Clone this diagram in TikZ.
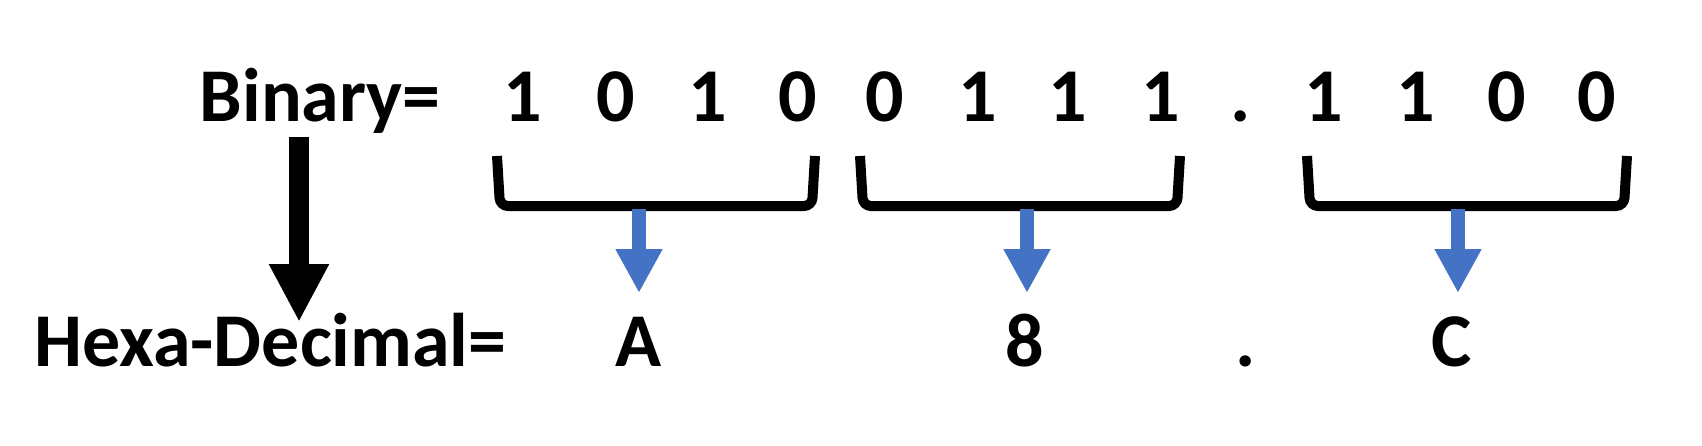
\documentclass[tikz,border=0pt]{standalone}
\usepackage{fontspec}
\setmainfont{Carlito}
\usetikzlibrary{arrows.meta}
\definecolor{arrowblue}{RGB}{68,114,196}

\begin{document}
\begin{tikzpicture}[
  x=0.5pt, y=-0.5pt,
  font=\fontsize{38}{42}\selectfont\bfseries,
  lbl/.style={inner sep=0pt, anchor=base},
  bracket/.style={line width=5pt, rounded corners=4pt},
  bluearr/.style={arrowblue, line width=7pt, -{Triangle[length=22pt, width=22pt]}},
  downarr/.style={line width=10pt, -{Triangle[length=29pt, width=28pt]}}
]
\useasboundingbox (0,0) rectangle (1702,445);

\node[lbl, anchor=base east] (bin) at (441,121) {Binary=};
\node[lbl, anchor=base west] (hex) at (34,366) {Hexa-Decimal=};

% binary digits
\foreach \x/\d [count=\i] in {523/1, 616/0, 708/1, 798/0, 885/0, 978/1, 1068/1, 1161/1, 1241/., 1324/1, 1416/1, 1507/0, 1597/0}
  \node[lbl] (b\i) at (\x,121) {\d};

% hexadecimal result
\node[lbl] (hA) at (639,366) {A};
\node[lbl] (h8) at (1025,366) {8};
\node[lbl] (hdot) at (1246,366) {.};
\node[lbl] (hC) at (1452,366) {C};

% groups of four
\draw[bracket] (497,156) -- (500,206) -- (812,206) -- (815,156);
\draw[bracket] (860,156) -- (863,206) -- (1177,206) -- (1180,156);
\draw[bracket] (1307,156) -- (1310,206) -- (1624,206) -- (1627,156);

\coordinate (g1) at (639,209);
\coordinate (g2) at (1027,209);
\coordinate (g3) at (1458,209);
\coordinate (t1) at (639,293);
\coordinate (t2) at (1027,293);
\coordinate (t3) at (1458,293);
\draw[bluearr] (g1) -- (t1);
\draw[bluearr] (g2) -- (t2);
\draw[bluearr] (g3) -- (t3);

% binary to hex
\coordinate (dtop) at (299,137);
\coordinate (dtip) at (299,322);
\draw[downarr] (dtop) -- (dtip);
\end{tikzpicture}
\end{document}
